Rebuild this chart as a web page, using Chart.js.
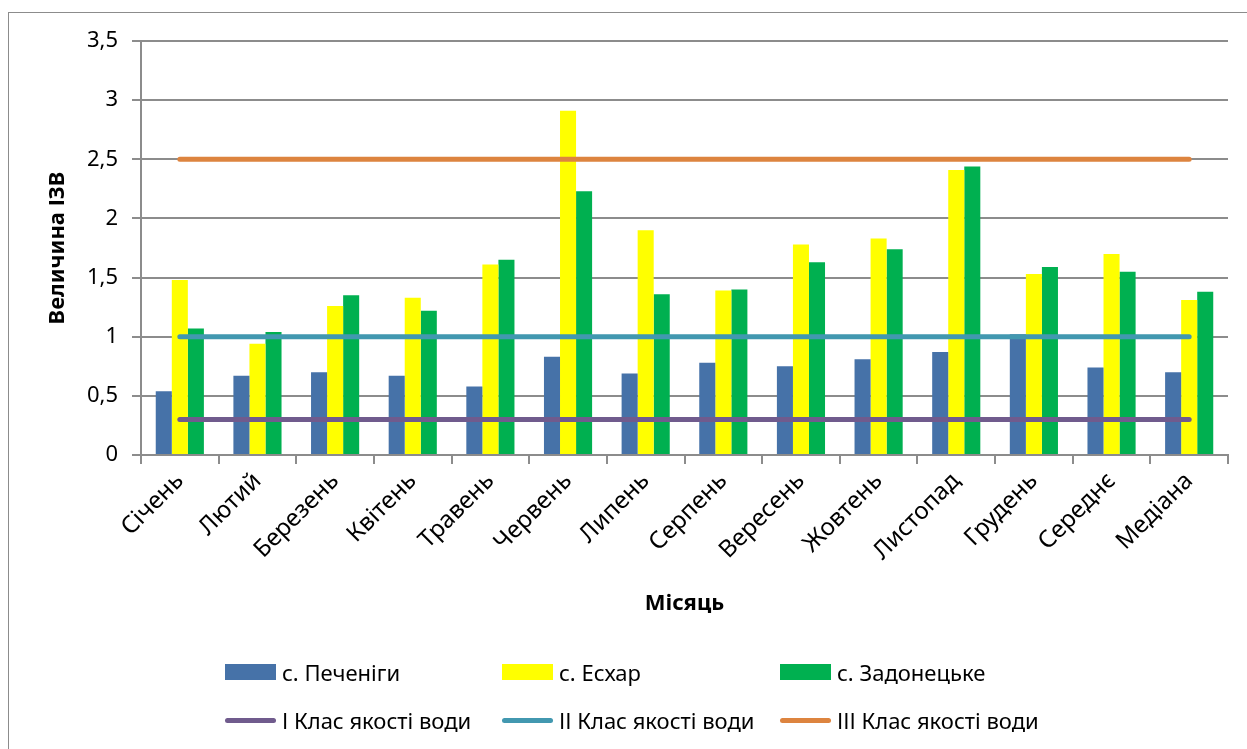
<!DOCTYPE html>
<html>
<head>
<meta charset="utf-8">
<script src="https://cdn.jsdelivr.net/npm/chart.js@4/dist/chart.umd.min.js"></script>
<style>
  html, body { margin: 0; padding: 0; background: #fff; }
  body { width: 1247px; height: 749px; position: relative; overflow: hidden; font-family: "Noto Sans", sans-serif; }
  .frame { position: absolute; left: 8px; top: 12px; width: 1260px; height: 760px; border: 1.5px solid #8c8c8c; box-sizing: border-box; }
  .wrap { position: absolute; left: 0; top: 0; width: 1247px; height: 640px; }
  .legend { position: absolute; left: 0; top: 0; width: 1247px; height: 749px; pointer-events: none; }
  .item { position: absolute; display: flex; align-items: center; font-size: 22px; color: #000; white-space: nowrap; transform: translateY(-50%); }
  .box { width: 51px; height: 16px; margin-right: 6px; }
  .line { width: 51px; height: 5px; border-radius: 3px; margin-right: 6px; }
</style>
</head>
<body>
<div class="frame"></div>
<div class="wrap"><canvas id="c"></canvas></div>
<div class="legend" id="legend"></div>
<script>
const months = ['Січень', 'Лютий', 'Березень', 'Квітень', 'Травень', 'Червень', 'Липень', 'Серпень', 'Вересень', 'Жовтень', 'Листопад', 'Грудень', 'Середнє', 'Медіана'];
const pechenigi = [0.54, 0.67, 0.70, 0.67, 0.58, 0.83, 0.69, 0.78, 0.75, 0.81, 0.87, 1.02, 0.74, 0.70];
const eskhar = [1.48, 0.94, 1.26, 1.33, 1.61, 2.91, 1.90, 1.39, 1.78, 1.83, 2.41, 1.53, 1.70, 1.31];
const zadonetske = [1.07, 1.04, 1.35, 1.22, 1.65, 2.23, 1.36, 1.40, 1.63, 1.74, 2.44, 1.59, 1.55, 1.38];
const class1 = [0.3, 0.3, 0.3, 0.3, 0.3, 0.3, 0.3, 0.3, 0.3, 0.3, 0.3, 0.3, 0.3, 0.3];
const class2 = [1, 1, 1, 1, 1, 1, 1, 1, 1, 1, 1, 1, 1, 1];
const class3 = [2.5, 2.5, 2.5, 2.5, 2.5, 2.5, 2.5, 2.5, 2.5, 2.5, 2.5, 2.5, 2.5, 2.5];
const yTicks = ['0', '0,5', '1', '1,5', '2', '2,5', '3', '3,5'];

const C = { blue: '#4672A8', yellow: '#FFFF00', green: '#00B050', purple: '#705B8D', teal: '#4298B0', orange: '#DD843F' };
const FONT = '"Noto Sans", sans-serif';

const bar = (label, data, color) => ({ type: 'bar', label, data, backgroundColor: color, order: 2,
  barPercentage: 1, categoryPercentage: 0.62 });
const hline = (label, data, color) => ({ type: 'line', label, data, borderColor: color, backgroundColor: color,
  borderWidth: 5, borderCapStyle: 'round', pointRadius: 0, fill: false, order: 1 });

const datasets = [
  bar('с. Печеніги', pechenigi, C.blue),
  bar('с. Есхар', eskhar, C.yellow),
  bar('с. Задонецьке', zadonetske, C.green),
  hline('І Клас якості води', class1, C.purple),
  hline('ІІ Клас якості води', class2, C.teal),
  hline('ІІІ Клас якості води', class3, C.orange),
];

new Chart(document.getElementById('c'), {
  data: { labels: months, datasets },
  options: {
    responsive: true, maintainAspectRatio: false, animation: false,
    layout: { padding: { top: 41, right: 19, left: 0, bottom: 0 } },
    plugins: { legend: { display: false }, tooltip: { enabled: false } },
    scales: {
      x: {
        offset: true,
        grid: { offset: true, drawOnChartArea: false, tickLength: 9, color: '#8c8c8c', lineWidth: 2 },
        border: { color: '#8c8c8c', width: 2 },
        ticks: { maxRotation: 45, minRotation: 45, color: '#000', font: { family: FONT, size: 24 }, padding: 3 },
        title: { display: true, text: 'Місяць', color: '#000', font: { family: FONT, size: 22, weight: 'bold' }, padding: { top: 0, bottom: 23 } },
        afterFit: s => { s.height = 640 - 455; },
      },
      y: {
        min: 0, max: 3.5,
        grid: { color: '#8c8c8c', lineWidth: 2, tickLength: 9 },
        border: { color: '#8c8c8c', width: 2 },
        ticks: { stepSize: 0.5, color: '#000', font: { family: FONT, size: 22 }, padding: 14,
          callback: (v, i) => yTicks[i] },
        title: { display: true, text: 'Величина ІЗВ', color: '#000', font: { family: FONT, size: 22, weight: 'bold' }, padding: { top: 45, bottom: 0 } },
        afterFit: s => { s.width = 141; },
      },
    },
  },
});

// legend laid out like the source: two rows, three columns
const legendCols = [225, 502, 780];
const legendRows = [672, 720];
document.getElementById('legend').innerHTML = datasets.map((d, i) => {
  const mark = d.type === 'bar'
    ? `<span class="box" style="background:${d.backgroundColor}"></span>`
    : `<span class="line" style="background:${d.borderColor}"></span>`;
  return `<div class="item" style="left:${legendCols[i % 3]}px;top:${legendRows[Math.floor(i / 3)]}px">${mark}${d.label}</div>`;
}).join('');
</script>
</body>
</html>
